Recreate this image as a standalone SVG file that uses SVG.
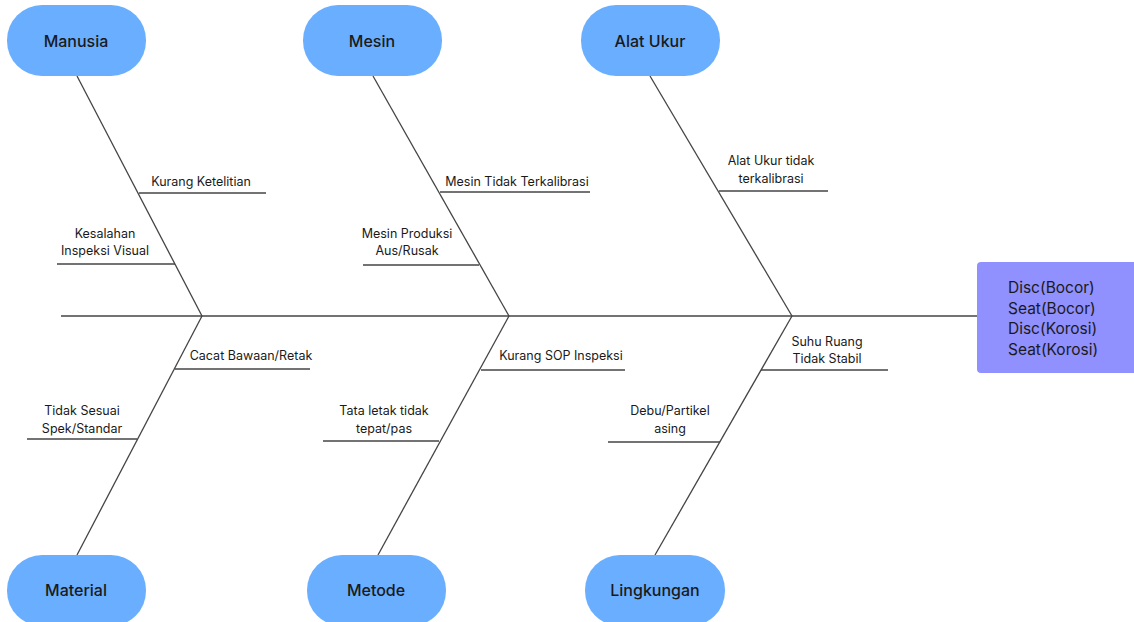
<svg xmlns="http://www.w3.org/2000/svg" width="1134" height="622" viewBox="0 0 1134 622">
<style>
.node{fill:#6aaeff;}
.nt{font-family:Inter,"Liberation Sans",sans-serif;font-size:16px;font-weight:500;fill:#1a1a1a;text-anchor:middle;dominant-baseline:central;}
.lb{font-family:Inter,"Liberation Sans",sans-serif;font-size:12.5px;fill:#1a1a1a;text-anchor:middle;dominant-baseline:central;}
.et{font-family:Inter,"Liberation Sans",sans-serif;font-size:15.5px;fill:#1a1a1a;dominant-baseline:central;}
.ln{stroke:#444;stroke-width:1.3;fill:none;}
</style>
<rect width="1134" height="622" fill="#fff"/>
<g id="connectors">
<line class="ln" x1="61" y1="316" x2="978" y2="316"/>
<line class="ln" x1="77" y1="76" x2="202" y2="316"/>
<line class="ln" x1="373" y1="76" x2="509" y2="316"/>
<line class="ln" x1="650" y1="76" x2="792" y2="316"/>
<line class="ln" x1="202" y1="316" x2="77" y2="555"/>
<line class="ln" x1="509" y1="316" x2="378" y2="555"/>
<line class="ln" x1="792" y1="316" x2="655" y2="555"/>
<line class="ln" x1="139" y1="193" x2="266" y2="193"/>
<line class="ln" x1="57" y1="264" x2="175" y2="264"/>
<line class="ln" x1="440" y1="192" x2="590" y2="192"/>
<line class="ln" x1="363" y1="265" x2="479" y2="265"/>
<line class="ln" x1="719" y1="191" x2="828" y2="191"/>
<line class="ln" x1="175" y1="369" x2="310" y2="369"/>
<line class="ln" x1="27" y1="439" x2="137" y2="439"/>
<line class="ln" x1="481" y1="370" x2="625" y2="370"/>
<line class="ln" x1="323" y1="441" x2="439" y2="441"/>
<line class="ln" x1="608" y1="442" x2="720" y2="442"/>
<line class="ln" x1="761" y1="370" x2="888" y2="370"/>
</g>
<g id="labels">
<text class="lb" x="201" y="181">Kurang Ketelitian</text>
<text class="lb" x="105" y="233">Kesalahan</text>
<text class="lb" x="105" y="250">Inspeksi Visual</text>
<text class="lb" x="517" y="181">Mesin Tidak Terkalibrasi</text>
<text class="lb" x="407" y="233">Mesin Produksi</text>
<text class="lb" x="407" y="250">Aus/Rusak</text>
<text class="lb" x="771" y="160">Alat Ukur tidak</text>
<text class="lb" x="771" y="178">terkalibrasi</text>
<text class="lb" x="251" y="355">Cacat Bawaan/Retak</text>
<text class="lb" x="82" y="410">Tidak Sesuai</text>
<text class="lb" x="82" y="428">Spek/Standar</text>
<text class="lb" x="561" y="355">Kurang SOP Inspeksi</text>
<text class="lb" x="384" y="410">Tata letak tidak</text>
<text class="lb" x="384" y="428">tepat/pas</text>
<text class="lb" x="670" y="410">Debu/Partikel</text>
<text class="lb" x="670" y="428">asing</text>
<text class="lb" x="827" y="341">Suhu Ruang</text>
<text class="lb" x="827" y="358">Tidak Stabil</text>
</g>
<g id="manusia"><rect class="node" x="7" y="5" width="139" height="71" rx="35"/><text class="nt" x="76" y="41">Manusia</text></g>
<g id="mesin"><rect class="node" x="303" y="5" width="139" height="71" rx="35"/><text class="nt" x="372" y="41">Mesin</text></g>
<g id="alat-ukur"><rect class="node" x="581" y="5" width="139" height="71" rx="35"/><text class="nt" x="650" y="41">Alat Ukur</text></g>
<g id="material"><rect class="node" x="7" y="555" width="139" height="71" rx="35"/><text class="nt" x="76" y="590">Material</text></g>
<g id="metode"><rect class="node" x="307" y="555" width="139" height="71" rx="35"/><text class="nt" x="376" y="590">Metode</text></g>
<g id="lingkungan"><rect class="node" x="585" y="555" width="140" height="71" rx="35"/><text class="nt" x="655" y="590">Lingkungan</text></g>
<g id="effect"><rect x="977" y="262" width="162" height="111" rx="4" fill="#9090ff"/>
<text class="et" x="1008" y="287">Disc(Bocor)</text>
<text class="et" x="1008" y="308">Seat(Bocor)</text>
<text class="et" x="1008" y="328">Disc(Korosi)</text>
<text class="et" x="1008" y="349">Seat(Korosi)</text>
</g>
</svg>
